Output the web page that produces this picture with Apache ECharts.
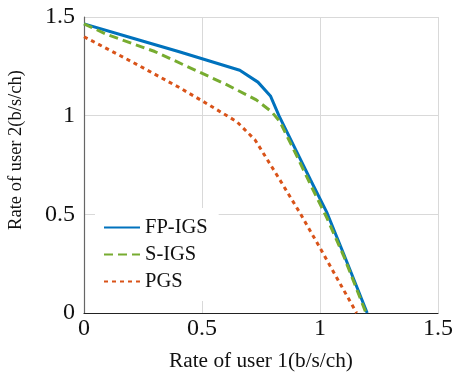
<!DOCTYPE html>
<html>
<head>
<meta charset="utf-8">
<script src="https://cdn.jsdelivr.net/npm/echarts@6/dist/echarts.min.js"></script>
<style>
  html, body { margin: 0; padding: 0; background: #fff; }
  #chart { width: 464px; height: 382px; }
</style>
</head>
<body>
<div id="chart"></div>
<script>
const seriesNames = ['FP-IGS', 'S-IGS', 'PGS'];

const fpX = [0, 0.2, 0.4, 0.66, 0.737, 0.79, 0.826, 0.9, 0.96, 1.03, 1.1, 1.2];
const fpY = [1.465, 1.395, 1.325, 1.23, 1.17, 1.10, 1.0, 0.82, 0.674, 0.507, 0.3, 0];

const sX = [0, 0.1, 0.3, 0.49, 0.6, 0.73, 0.795, 0.83, 0.9, 0.96, 1.03, 1.1, 1.195];
const sY = [1.465, 1.41, 1.325, 1.22, 1.16, 1.08, 1.02, 0.97, 0.8, 0.65, 0.48, 0.29, 0];

const pgX = [0, 0.2, 0.4, 0.505, 0.647, 0.725, 0.822, 0.915, 1.0, 1.155];
const pgY = [1.40, 1.275, 1.145, 1.072, 0.97, 0.877, 0.69, 0.507, 0.33, 0];

const axisTicks = [0, 0.5, 1, 1.5];

const font = "'Liberation Serif', 'DejaVu Serif', serif";

function pairs(xs, ys) {
    return xs.map((x, i) => [x, ys[i]]);
}

const chart = echarts.init(document.getElementById('chart'), null, { renderer: 'canvas' });

const option = {
    animation: false,
    backgroundColor: '#fff',
    grid: { left: 84, right: 26, top: 17, bottom: 69, outerBoundsMode: 'none', containLabel: false },
    legend: {
        orient: 'vertical',
        left: 95,
        top: 208,
        backgroundColor: '#fff',
        padding: [9, 11, 9, 8],
        itemWidth: 36,
        itemHeight: 14,
        itemGap: 6,
        data: seriesNames,
        itemStyle: { opacity: 0 },
        textStyle: { fontFamily: font, fontSize: 20.5, color: '#111', lineHeight: 20 }
    },
    xAxis: {
        type: 'value',
        min: axisTicks[0],
        max: axisTicks[axisTicks.length - 1],
        interval: 0.5,
        name: 'Rate of user 1(b/s/ch)',
        nameLocation: 'middle',
        nameGap: 38,
        nameTextStyle: { fontFamily: font, fontSize: 21.3, color: '#111' },
        axisLine: { lineStyle: { color: '#222', width: 1.2 } },
        axisTick: { show: false },
        axisLabel: { fontFamily: font, fontSize: 24, color: '#111', margin: 4 },
        splitLine: { show: true, lineStyle: { color: '#d9d9d9', width: 1 } }
    },
    yAxis: {
        type: 'value',
        min: axisTicks[0],
        max: axisTicks[axisTicks.length - 1],
        interval: 0.5,
        name: 'Rate of user 2(b/s/ch)',
        nameLocation: 'middle',
        nameGap: 58,
        nameRotate: 90,
        nameTextStyle: { fontFamily: font, fontSize: 18.5, color: '#111', padding: [0, 0, 0, 30] },
        axisLine: { show: true, lineStyle: { color: '#666', width: 1.2 } },
        axisTick: { show: false },
        axisLabel: { fontFamily: font, fontSize: 24, color: '#111', margin: 9 },
        splitLine: { show: true, lineStyle: { color: '#d9d9d9', width: 1 } }
    },
    series: [
        {
            name: seriesNames[0], type: 'line', symbol: 'none',
            data: pairs(fpX, fpY),
            itemStyle: { color: '#0072BD' },
            lineStyle: { color: '#0072BD', width: 3 }
        },
        {
            name: seriesNames[1], type: 'line', symbol: 'none',
            data: pairs(sX, sY),
            itemStyle: { color: '#77AC30' },
            lineStyle: { color: '#77AC30', width: 3, type: [9, 5] }
        },
        {
            name: seriesNames[2], type: 'line', symbol: 'none',
            data: pairs(pgX, pgY),
            itemStyle: { color: '#D95319' },
            lineStyle: { color: '#D95319', width: 3, type: [4, 4] }
        }
    ]
};

chart.setOption(option);
</script>
</body>
</html>
